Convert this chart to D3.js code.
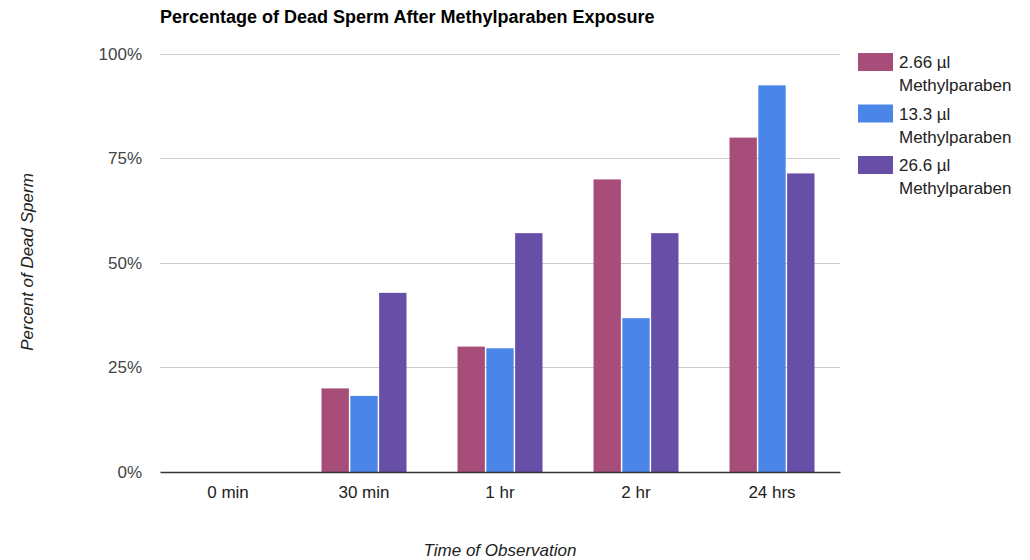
<!DOCTYPE html>
<html>
<head>
<meta charset="utf-8">
<script src="https://cdn.jsdelivr.net/npm/d3@7"></script>
<style>
  html, body { margin: 0; padding: 0; background: #fff; }
  svg { display: block; font-family: Arial, "Liberation Sans", sans-serif; }
</style>
</head>
<body>
<svg id="chart" width="1030" height="560"></svg>
<script>
// Observation times (x categories)
const times = ["0 min", "30 min", "1 hr", "2 hr", "24 hrs"];
// Dose series names and colours
const seriesNames = ["2.66 µl Methylparaben", "13.3 µl Methylparaben", "26.6 µl Methylparaben"];
const seriesColors = ["#a64d79", "#4a86e8", "#674ea7"];
// Percent dead sperm per time point, one array per dose
const dose266 = [0, 20, 30, 70, 80];
const dose133 = [0, 18.2, 29.6, 36.8, 92.5];
const dose266b = [0, 42.86, 57.14, 57.14, 71.43];
const seriesValues = [dose266, dose133, dose266b];
// Y axis ticks
const yTicks = [0, 25, 50, 75, 100];

const svg = d3.select("#chart");
const margin = { left: 160, right: 190, top: 54, bottom: 88 };
const W = 1030, H = 560;
const x0 = margin.left, x1 = W - margin.right;
const yTop = margin.top, yBot = H - margin.bottom;
const fs = 17;

const x = d3.scaleBand().domain(times).range([x0, x1]).paddingInner(0.375).paddingOuter(0.1875);
const xs = d3.scaleBand().domain(d3.range(seriesNames.length)).range([0, x.bandwidth()]).paddingInner(0.05);
const y = d3.scaleLinear().domain([0, 100]).range([yBot, yTop]);

// Gridlines
svg.append("g").selectAll("line").data(yTicks.filter(d => d > 0)).join("line")
  .attr("x1", x0).attr("x2", x1)
  .attr("y1", d => y(d)).attr("y2", d => y(d))
  .attr("stroke", "#cccccc").attr("stroke-width", 1).attr("shape-rendering", "crispEdges");

// Y axis labels
const yAxis = d3.axisLeft(y).tickValues(yTicks).tickFormat(d => d + "%").tickSize(0).tickPadding(18);
const gy = svg.append("g").attr("transform", `translate(${x0},0)`).call(yAxis);
gy.select(".domain").remove();
gy.selectAll("text").attr("fill", "#444").style("font-size", fs + "px");

// Bars
const groups = svg.append("g").selectAll("g").data(times).join("g")
  .attr("transform", d => `translate(${x(d)},0)`);
groups.selectAll("rect").data((t, i) => seriesValues.map((vals, s) => ({ s, v: vals[i] }))).join("rect")
  .attr("x", d => xs(d.s))
  .attr("width", xs.bandwidth())
  .attr("y", d => y(d.v))
  .attr("height", d => y(0) - y(d.v))
  .attr("fill", d => seriesColors[d.s]);

// X axis baseline and labels
const xAxis = d3.axisBottom(x).tickSize(0).tickPadding(14);
const gx = svg.append("g").attr("transform", `translate(0,${yBot})`).call(xAxis);
gx.select(".domain").attr("stroke", "#333").attr("stroke-width", 1.5);
gx.selectAll("text").attr("fill", "#222").style("font-size", fs + "px");

// Title
svg.append("text").attr("x", 160).attr("y", 23)
  .attr("font-weight", "bold").attr("font-size", 18).attr("fill", "#000")
  .text("Percentage of Dead Sperm After Methylparaben Exposure");

// Axis titles
svg.append("text").attr("transform", "translate(33,262) rotate(-90)")
  .attr("text-anchor", "middle").attr("font-style", "italic").attr("font-size", fs).attr("fill", "#222")
  .text("Percent of Dead Sperm");
svg.append("text").attr("x", 500).attr("y", 556)
  .attr("text-anchor", "middle").attr("font-style", "italic").attr("font-size", fs).attr("fill", "#222")
  .text("Time of Observation");

// Legend
const legend = svg.append("g").attr("transform", "translate(858,53)");
const item = legend.selectAll("g").data(seriesNames).join("g")
  .attr("transform", (d, i) => `translate(0,${i * 51.5})`);
item.append("rect").attr("width", 35).attr("height", 18).attr("fill", (d, i) => seriesColors[i]);
item.append("text").attr("x", 41).attr("y", 15).attr("font-size", fs).attr("fill", "#222")
  .text(d => d.split(" ").slice(0, 2).join(" "));
item.append("text").attr("x", 41).attr("y", 38).attr("font-size", fs).attr("fill", "#222")
  .text(d => d.split(" ").slice(2).join(" "));
</script>
</body>
</html>
